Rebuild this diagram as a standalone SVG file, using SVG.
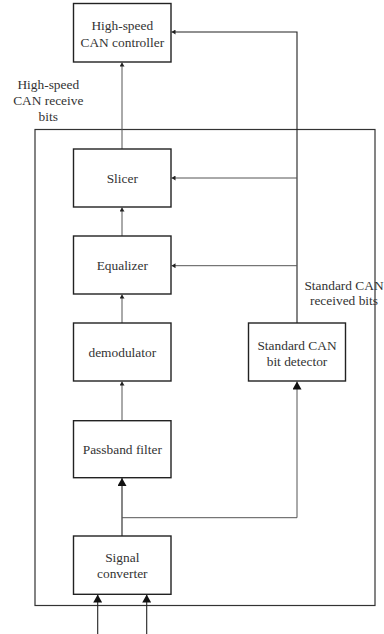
<svg xmlns="http://www.w3.org/2000/svg" width="384" height="634" viewBox="0 0 384 634">
<defs>
<style>
.box{fill:#fff;stroke:#222;stroke-width:1.4}
.frame{fill:none;stroke:#333;stroke-width:1.2}
.t{font-family:"Liberation Serif","Times New Roman",serif;font-size:13.4px;fill:#333;text-anchor:middle}
.ln{fill:none;stroke:#555;stroke-width:1}
.lnk{fill:none;stroke:#222;stroke-width:1.1}
</style>
<marker id="sa" markerUnits="userSpaceOnUse" markerWidth="4" markerHeight="5" refX="4" refY="2.5" orient="auto">
<path d="M0,0 L4,2.5 L0,5 z" fill="#222"/>
</marker>
<marker id="ba" markerUnits="userSpaceOnUse" markerWidth="9" markerHeight="9" refX="8" refY="4.5" orient="auto">
<path d="M0,0 L8,4.5 L0,9 z" fill="#111"/>
</marker>
</defs>
<rect class="frame" x="35" y="129.5" width="340" height="476"/>
<g id="connectors">
<line class="ln" x1="122" y1="149" x2="122" y2="62.5" marker-end="url(#sa)"/>
<line class="ln" x1="122" y1="236" x2="122" y2="207.5" marker-end="url(#sa)"/>
<line class="ln" x1="122" y1="323" x2="122" y2="294.5" marker-end="url(#sa)"/>
<line class="ln" x1="122" y1="420.7" x2="122" y2="381.5" marker-end="url(#sa)"/>
<polyline class="lnk" points="297,323 297,32 171.5,32" marker-end="url(#sa)"/>
<line class="ln" x1="297" y1="178" x2="171.5" y2="178" marker-end="url(#sa)"/>
<line class="ln" x1="297" y1="265.7" x2="171.5" y2="265.7" marker-end="url(#sa)"/>
<line class="lnk" x1="122" y1="536" x2="122" y2="478" marker-end="url(#ba)"/>
<polyline class="ln" points="122,517.7 297,517.7 297,381.5" marker-end="url(#ba)"/>
<line class="lnk" x1="97.7" y1="634" x2="97.7" y2="594.5" marker-end="url(#ba)"/>
<line class="lnk" x1="146.7" y1="634" x2="146.7" y2="594.5" marker-end="url(#ba)"/>
</g>
<g id="controller">
<rect class="box" x="73.5" y="3.5" width="97.5" height="58.5"/>
<text class="t" x="122.3" y="29.5">High-speed</text>
<text class="t" x="122.3" y="46.5">CAN controller</text>
</g>
<g id="label-hs">
<text class="t" x="48.3" y="88.5">High-speed</text>
<text class="t" x="48.3" y="104.5">CAN receive</text>
<text class="t" x="48.3" y="120.5">bits</text>
</g>
<g id="slicer">
<rect class="box" x="73.5" y="149" width="97.5" height="58"/>
<text class="t" x="122.3" y="182.5">Slicer</text>
</g>
<g id="equalizer">
<rect class="box" x="73.5" y="236" width="97.5" height="58"/>
<text class="t" x="122.3" y="270">Equalizer</text>
</g>
<g id="demodulator">
<rect class="box" x="73.5" y="323" width="97.5" height="58"/>
<text class="t" x="122.3" y="357">demodulator</text>
</g>
<g id="bitdetector">
<rect class="box" x="248.5" y="323" width="97" height="58"/>
<text class="t" x="297" y="349.5">Standard CAN</text>
<text class="t" x="297" y="365.5">bit detector</text>
</g>
<g id="label-std">
<text class="t" x="344" y="289.5">Standard CAN</text>
<text class="t" x="344" y="305">received bits</text>
</g>
<g id="passband">
<rect class="box" x="73.5" y="420.7" width="97.5" height="57"/>
<text class="t" x="122.3" y="454">Passband filter</text>
</g>
<g id="converter">
<rect class="box" x="73.5" y="536" width="97.5" height="58.3"/>
<text class="t" x="122.3" y="561.5">Signal</text>
<text class="t" x="122.3" y="577.5">converter</text>
</g>
</svg>
